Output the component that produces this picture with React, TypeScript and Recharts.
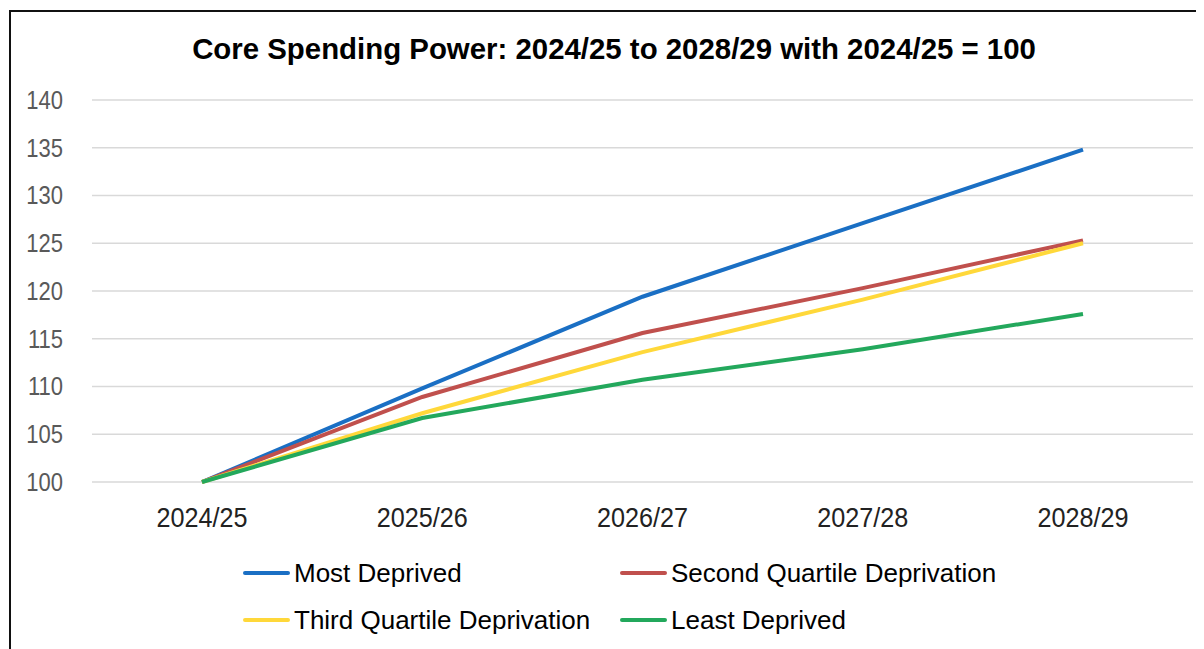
import { CartesianGrid, Legend, Line, LineChart, XAxis, YAxis } from "recharts"

const years = ["2024/25", "2025/26", "2026/27", "2027/28", "2028/29"]

const mostDeprived = [100, 109.8, 119.4, 127.1, 134.8]
const secondQuartile = [100, 108.9, 115.6, 120.3, 125.3]
const thirdQuartile = [100, 107.2, 113.6, 119.1, 125.0]
const leastDeprived = [100, 106.7, 110.7, 113.9, 117.6]

const yTicks = [100, 105, 110, 115, 120, 125, 130, 135, 140]

const seriesNames = [
  "Most Deprived",
  "Second Quartile Deprivation",
  "Third Quartile Deprivation",
  "Least Deprived",
]

const FONT = "'Liberation Sans', Arial, sans-serif"

const data = years.map((year, i) => ({
  year,
  most: mostDeprived[i],
  second: secondQuartile[i],
  third: thirdQuartile[i],
  least: leastDeprived[i],
}))

// narrow the glyphs a bit so they read more like the Calibri in the original
const XTick = (props: any) => {
  const { x, y, payload } = props
  return (
    <text transform={`translate(${x},${y}) scale(0.9,1)`} textAnchor="middle" dy="0.71em" fill="#222" fontSize={28} fontFamily={FONT}>
      {payload.value}
    </text>
  )
}

const YTick = (props: any) => {
  const { x, y, payload } = props
  return (
    <text transform={`translate(${x},${y}) scale(0.88,1)`} textAnchor="end" dy="0.355em" fill="#595959" fontSize={25} fontFamily={FONT}>
      {payload.value}
    </text>
  )
}

const LegendBox = (props: any) => {
  const items = [...(props.payload || [])].sort(
    (a: any, b: any) => seriesNames.indexOf(a.value) - seriesNames.indexOf(b.value)
  )
  return (
    <div style={{ position: "relative", height: 100, width: 1196, fontFamily: FONT }}>
      {items.map((item: any, i: number) => {
        const col = i % 2
        const row = Math.floor(i / 2)
        const left = col === 0 ? 235 : 612
        const top = row === 0 ? 24 : 71
        return (
          <div key={item.value} style={{ position: "absolute", left, top: top - 20, height: 40, display: "flex", alignItems: "center" }}>
            <div style={{ width: 47, height: 4, background: item.color, borderRadius: 2 }} />
            <span style={{ marginLeft: 4, fontSize: 26, color: "#000", whiteSpace: "nowrap" }}>{item.value}</span>
          </div>
        )
      })}
    </div>
  )
}

const App = () => {
  return (
    <div style={{ position: "relative", width: 1196, height: 641, background: "#fff" }}>
      <div style={{ position: "absolute", left: 1, top: 2, right: 0, bottom: 0, borderTop: "2px solid #111", borderLeft: "2px solid #111" }} />
      <div style={{ position: "absolute", left: 0, top: 24, width: 1212, textAlign: "center", fontFamily: FONT, fontWeight: "bold", fontSize: 29.4, color: "#000" }}>
        Core Spending Power: 2024/25 to 2028/29 with 2024/25 = 100
      </div>
      <div style={{ position: "absolute", left: 0, top: 0 }}>
        <LineChart width={1196} height={641} data={data} margin={{ top: 92, right: 11, left: 0, bottom: 0 }}>
          <CartesianGrid vertical={false} stroke="#d9d9d9" strokeWidth={1.5} />
          <XAxis
            dataKey="year"
            height={67}
            padding={{ left: 110, right: 110 }}
            axisLine={false}
            tickLine={false}
            tickSize={0}
            tickMargin={25}
            tick={<XTick />}
          />
          <YAxis
            width={84}
            domain={[100, 140]}
            ticks={yTicks}
            axisLine={false}
            tickLine={false}
            tickSize={0}
            tickMargin={29}
            tick={<YTick />}
          />
          <Legend verticalAlign="bottom" height={100} content={<LegendBox />} wrapperStyle={{ left: 0, width: 1196 }} />
          <Line dataKey="most" name={seriesNames[0]} stroke="#1a6fc4" strokeWidth={4} dot={false} isAnimationActive={false} />
          <Line dataKey="second" name={seriesNames[1]} stroke="#c0504d" strokeWidth={4} dot={false} isAnimationActive={false} />
          <Line dataKey="third" name={seriesNames[2]} stroke="#ffd83a" strokeWidth={4} dot={false} isAnimationActive={false} />
          <Line dataKey="least" name={seriesNames[3]} stroke="#23a85c" strokeWidth={4} dot={false} isAnimationActive={false} />
        </LineChart>
      </div>
    </div>
  )
}

export default App
